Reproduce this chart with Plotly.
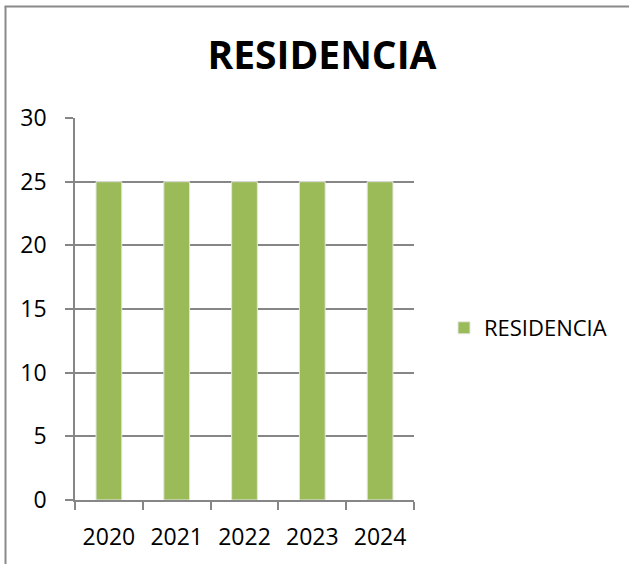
import plotly.graph_objects as go

categories = ["2020", "2021", "2022", "2023", "2024"]
values = [25, 25, 25, 25, 25]
series_name = "RESIDENCIA"
title_text = "RESIDENCIA"
y_ticks = [0, 5, 10, 15, 20, 25, 30]

W, H = 629, 564
L, R, T, B = 75, 414, 118, 500
pw, ph = R - L, B - T

def px_x(px):
    return (px - L) / pw

def px_y(py):
    return (B - py) / ph

FONT = "'Open Sans', Lato, sans-serif"
GRID = "#868686"

fig = go.Figure()
fig.add_trace(go.Bar(
    x=categories, y=values, name=series_name,
    marker=dict(color="#9BBB59", line=dict(color="#e4e4e4", width=1)),
    showlegend=True,
))

fig.update_layout(
    width=W, height=H,
    margin=dict(l=L, r=W - R, t=T, b=H - B, pad=0),
    paper_bgcolor="white", plot_bgcolor="white",
    font=dict(family=FONT, color="black", size=23),
    title=dict(text="<b>" + title_text + "</b>", x=322 / W, xanchor="center",
               y=1 - 55 / H, yanchor="middle",
               font=dict(family=FONT, size=39, color="black")),
    bargap=0.62,
    showlegend=True,
    legend=dict(x=px_x(444), xanchor="left", y=px_y(328), yanchor="middle",
                font=dict(family=FONT, size=22, color="black"),
                bgcolor="rgba(0,0,0,0)", itemwidth=30),
    xaxis=dict(type="category", showgrid=False, showline=True, linecolor=GRID,
               linewidth=1.5, ticks="outside", tickson="boundaries", ticklen=8,
               tickcolor=GRID, tickwidth=1.5, tickfont=dict(size=23, family=FONT),
               ticklabelstandoff=16),
    yaxis=dict(range=[0, 30], tickvals=y_ticks, showgrid=True, gridcolor=GRID,
               gridwidth=1.5, showline=True, linecolor=GRID, linewidth=1.5,
               ticks="outside", ticklen=8, tickcolor=GRID, tickwidth=1.5,
               tickfont=dict(size=23, family=FONT), ticklabelstandoff=14,
               zeroline=False),
    shapes=[
        dict(type="line", xref="paper", yref="paper",
             x0=px_x(5.5), x1=px_x(5.5), y0=px_y(6.5), y1=px_y(570),
             line=dict(color="#8a8a8a", width=2)),
        dict(type="line", xref="paper", yref="paper",
             x0=px_x(4.5), x1=px_x(640), y0=px_y(6.5), y1=px_y(6.5),
             line=dict(color="#8a8a8a", width=2)),
    ],
)

fig.write_html("out.html", config={"displayModeBar": False},
               post_script="document.body.style.margin='0';")
